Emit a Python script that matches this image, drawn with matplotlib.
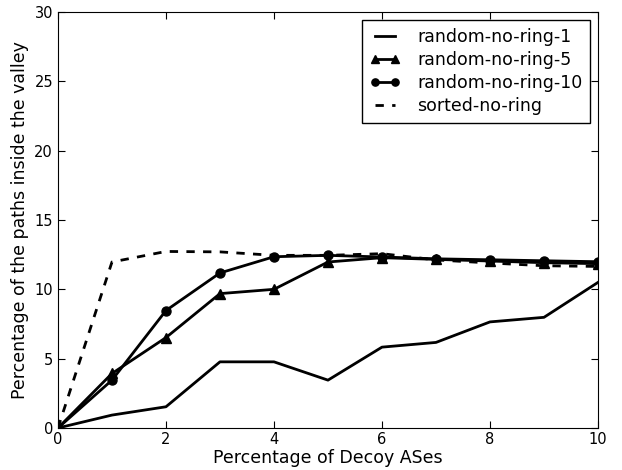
import matplotlib
matplotlib.use("Agg")
import matplotlib.pyplot as plt

x = [0, 1, 2, 3, 4, 5, 6, 7, 8, 9, 10]
random_1 = [0, 0.93, 1.53, 4.77, 4.77, 3.45, 5.83, 6.17, 7.65, 7.98, 10.5]
random_5 = [0, 3.93, 6.52, 9.69, 10.0, 11.97, 12.28, 12.16, 12.04, 11.92, 11.85]
random_10 = [0, 3.45, 8.47, 11.18, 12.35, 12.45, 12.33, 12.2, 12.13, 12.06, 11.99]
sorted_nr = [0, 11.97, 12.73, 12.7, 12.45, 12.45, 12.57, 12.12, 11.9, 11.7, 11.65]

fig = plt.figure(figsize=(6.22, 4.70), dpi=100)
ax = fig.add_axes([0.0932, 0.0894, 0.8682, 0.8851])

ax.plot(x, random_1, color='black', lw=2, label='random-no-ring-1')
ax.plot(x, random_5, color='black', lw=2, marker='^', ms=6.5, label='random-no-ring-5')
ax.plot(x, random_10, color='black', lw=2, marker='o', ms=6.5, label='random-no-ring-10')
ax.plot(x, sorted_nr, color='black', lw=2, ls=(0, (3, 3)), label='sorted-no-ring')

ax.set_xlim(0, 10)
ax.set_ylim(0, 30)
ax.set_xticks([0, 2, 4, 6, 8, 10])
ax.set_yticks([0, 5, 10, 15, 20, 25, 30])
ax.tick_params(direction='in', top=True, right=True, length=5, labelsize=10.5)
ax.tick_params(axis='x', pad=3)
ax.set_xlabel('Percentage of Decoy ASes', fontsize=12.5, labelpad=1)
ax.set_ylabel('Percentage of the paths inside the valley', fontsize=12.5, labelpad=4)

leg = ax.legend(loc='upper right', fontsize=12.5, fancybox=False, framealpha=1,
                edgecolor='black', handlelength=1.75, handletextpad=0.95,
                numpoints=2, markerscale=0.8, labelspacing=0.3, borderpad=0.45,
                borderaxespad=0.45)
leg.get_frame().set_linewidth(1)

fig.savefig('out.png', dpi=100)
